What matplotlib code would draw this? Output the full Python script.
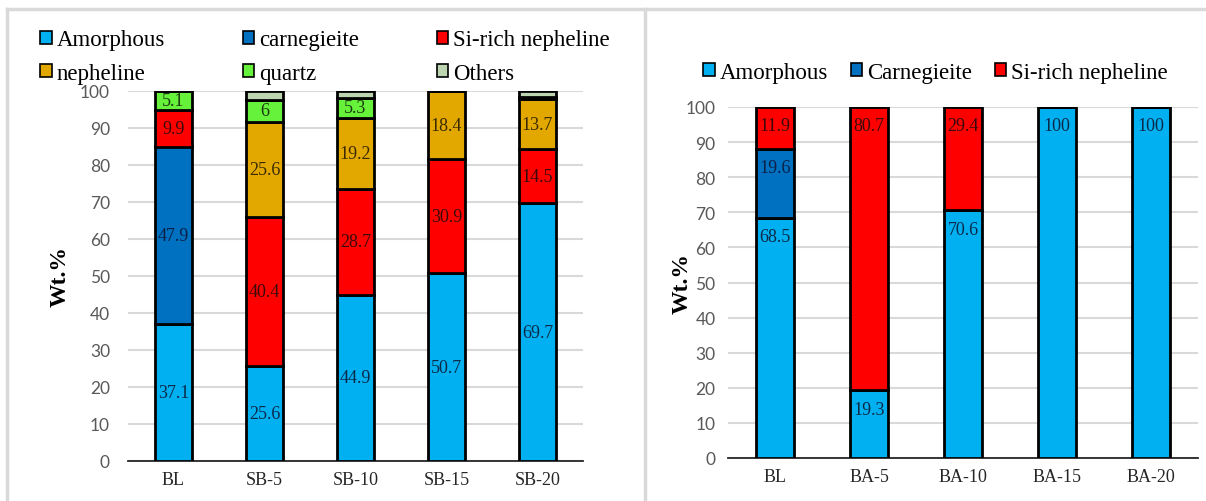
import numpy as np
import matplotlib
matplotlib.use("Agg")
import matplotlib.pyplot as plt
from matplotlib.patches import Patch
from matplotlib.lines import Line2D

DPI = 100
W, H = 1206, 502

# SB series (left panel)
sb_samples = ['BL', 'SB-5', 'SB-10', 'SB-15', 'SB-20']
sb_phases = ['Amorphous', 'carnegieite', 'Si-rich nepheline', 'nepheline', 'quartz', 'Others']
sb_amorphous = [37.1, 25.6, 44.9, 50.7, 69.7]
sb_carnegieite = [47.9, 0, 0, 0, 0]
sb_si_rich = [9.9, 40.4, 28.7, 30.9, 14.5]
sb_nepheline = [0, 25.6, 19.2, 18.4, 13.7]
sb_quartz = [5.1, 6.0, 5.3, 0, 0.6]
sb_others = [0, 2.4, 1.9, 0, 1.5]
# which segments carry a value label
sb_labelled = [True, True, True, True, True, False]

# BA series (right panel)
ba_samples = ['BL', 'BA-5', 'BA-10', 'BA-15', 'BA-20']
ba_phases = ['Amorphous', 'Carnegieite', 'Si-rich nepheline']
ba_amorphous = [68.5, 19.3, 70.6, 100, 100]
ba_carnegieite = [19.6, 0, 0, 0, 0]
ba_si_rich = [11.9, 80.7, 29.4, 0, 0]

C_AMORPH = '#00B0F0'
C_CARN = '#0070C0'
C_SIRICH = '#FF0000'
C_NEPH = '#E3A800'
C_QUARTZ = '#66F23A'
C_OTHERS = '#BDD4B0'

TXT_COLORS = {C_AMORPH: '#0B2A4A', C_CARN: '#0B2147', C_SIRICH: '#3A0A0A',
              C_NEPH: '#3A2A00', C_QUARTZ: '#1A3A10', C_OTHERS: '#222222'}

SERIF = 'Liberation Serif'
SANS = 'Lato'


def px_rect(x0, x1, y_top, y_bot):
    return [x0 / W, 1 - y_bot / H, (x1 - x0) / W, (y_bot - y_top) / H]


def style_axes(ax, ypad):
    ax.set_ylim(0, 100)
    ax.set_yticks(np.arange(0, 101, 10))
    ax.grid(axis='y', color='#D9D9D9', lw=1.5)
    ax.set_axisbelow(True)
    for s in ['top', 'right', 'left']:
        ax.spines[s].set_visible(False)
    ax.spines['bottom'].set_color('#262626')
    ax.spines['bottom'].set_linewidth(1.3)
    ax.tick_params(axis='y', length=0, labelsize=12.5, labelcolor='#595959', pad=ypad)
    ax.tick_params(axis='x', length=0, labelsize=13, labelcolor='#262626', pad=7)
    for lab in ax.get_yticklabels():
        lab.set_fontfamily(SANS)
    for lab in ax.get_xticklabels():
        lab.set_fontfamily(SERIF)
    ax.set_ylabel('Wt.%', fontfamily=SERIF, fontweight='bold', fontsize=17)


def stacked(ax, samples, series, colors, width, label_mode, labelled=None):
    x = np.arange(len(samples))
    bottom = np.zeros(len(samples))
    for i, (vals, col) in enumerate(zip(series, colors)):
        vals = np.asarray(vals, dtype=float)
        ax.bar(x, vals, width, bottom=bottom, color=col, edgecolor='black', lw=2, zorder=3)
        if labelled is None or labelled[i]:
            for xi, b, v in zip(x, bottom, vals):
                if v < 4:
                    continue
                if label_mode == 'center':
                    y, va, off = b + v / 2, 'center', 0
                else:
                    y, va, off = b + v, 'top', -7.5
                ax.annotate(f'{v:g}', (xi, y), xytext=(0, off), textcoords='offset points',
                            ha='center', va=va, fontsize=13, fontfamily=SERIF,
                            color=TXT_COLORS[col], zorder=4)
        bottom += vals
    ax.set_xticks(x)
    ax.set_xticklabels(samples)
    ax.set_xlim(-0.5, len(samples) - 0.5)


def row_major(items, ncol):
    # matplotlib fills legend columns first; reorder so entries read across rows
    nrow = int(np.ceil(len(items) / ncol))
    return [items[r * ncol + c] for c in range(ncol) for r in range(nrow) if r * ncol + c < len(items)]


fig = plt.figure(figsize=(W / DPI, H / DPI), dpi=DPI)

# left panel
ax1 = fig.add_axes(px_rect(128, 583, 92, 462))
sb_colors = [C_AMORPH, C_CARN, C_SIRICH, C_NEPH, C_QUARTZ, C_OTHERS]
stacked(ax1, sb_samples,
        [sb_amorphous, sb_carnegieite, sb_si_rich, sb_nepheline, sb_quartz, sb_others],
        sb_colors, 0.41, 'center', sb_labelled)
style_axes(ax1, 13)
ax1.yaxis.set_label_coords(-0.125, 0.5)

h1 = [Patch(facecolor=c, edgecolor='black', lw=1.2) for c in sb_colors]
fig.legend(row_major(h1, 3), row_major(sb_phases, 3), ncol=3, loc='upper left',
           bbox_to_anchor=(29 / W, 1 - 19 / H),
           frameon=False, prop={'family': SERIF, 'size': 16.5},
           handlelength=0.5, handleheight=0.5, handletextpad=0.2,
           columnspacing=3.4, labelspacing=0.55, borderpad=0)

# right panel
ax2 = fig.add_axes(px_rect(728, 1198, 108, 459))
ba_colors = [C_AMORPH, C_CARN, C_SIRICH]
stacked(ax2, ba_samples, [ba_amorphous, ba_carnegieite, ba_si_rich], ba_colors, 0.4, 'end')
style_axes(ax2, 9)
ax2.yaxis.set_label_coords(-0.076, 0.5)

h2 = [Patch(facecolor=c, edgecolor='black', lw=1.2) for c in ba_colors]
fig.legend(h2, ba_phases, ncol=3, loc='center left', bbox_to_anchor=(692 / W, 1 - 73 / H),
           frameon=False, prop={'family': SERIF, 'size': 16.5},
           handlelength=0.5, handleheight=0.5, handletextpad=0.2,
           columnspacing=1.0, borderpad=0)

# panel frames
frame = dict(color='#D9D9D9', lw=2.5, transform=fig.transFigure)
fig.add_artist(Line2D([7 / W, 1205 / W], [1 - 10 / H] * 2, **frame))
fig.add_artist(Line2D([7 / W] * 2, [0, 1 - 10 / H], **frame))
fig.add_artist(Line2D([645 / W] * 2, [0, 1 - 10 / H], **frame))

fig.savefig('out.png', dpi=DPI, facecolor='white')
